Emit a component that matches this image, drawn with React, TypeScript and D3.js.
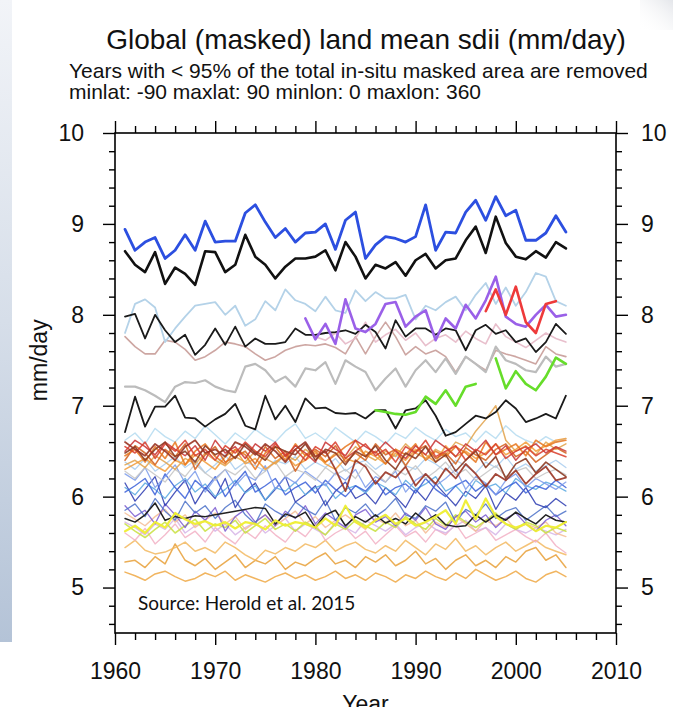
import React, { useEffect, useRef } from 'react';
import * as d3 from 'd3';

// ---------- categories / ticks ----------
const YEARS = [
  1961, 1962, 1963, 1964, 1965, 1966, 1967, 1968, 1969, 1970,
  1971, 1972, 1973, 1974, 1975, 1976, 1977, 1978, 1979, 1980,
  1981, 1982, 1983, 1984, 1985, 1986, 1987, 1988, 1989, 1990,
  1991, 1992, 1993, 1994, 1995, 1996, 1997, 1998, 1999, 2000,
  2001, 2002, 2003, 2004, 2005,
];
const X_MAJOR = [1960, 1970, 1980, 1990, 2000, 2010];
const X_MINOR = [1962, 1964, 1966, 1968, 1972, 1974, 1976, 1978, 1982, 1984, 1986, 1988, 1992, 1994, 1996, 1998, 2002, 2004, 2006, 2008];
const Y_MAJOR = [5, 6, 7, 8, 9, 10];
const Y_MINOR = [4.6, 4.8, 5.2, 5.4, 5.6, 5.8, 6.2, 6.4, 6.6, 6.8, 7.2, 7.4, 7.6, 7.8, 8.2, 8.4, 8.6, 8.8, 9.2, 9.4, 9.6, 9.8];

// ---------- series values (mm/day) ----------
const blueTop = [
  8.94, 8.71, 8.80, 8.85, 8.62, 8.71, 8.88, 8.71, 9.03, 8.80,
  8.81, 8.81, 9.12, 9.21, 9.02, 8.85, 8.95, 8.80, 8.90, 8.91,
  9.00, 8.72, 9.04, 9.13, 8.62, 8.77, 8.86, 8.84, 8.80, 8.86,
  9.21, 8.71, 8.91, 8.90, 9.13, 9.26, 9.04, 9.30, 9.09, 9.15,
  8.82, 8.82, 8.90, 9.09, 8.91,
];
const blackTop = [
  8.70, 8.55, 8.47, 8.69, 8.34, 8.52, 8.45, 8.33, 8.70, 8.69,
  8.47, 8.55, 8.88, 8.64, 8.55, 8.40, 8.53, 8.62, 8.62, 8.64,
  8.71, 8.49, 8.80, 8.64, 8.40, 8.55, 8.51, 8.58, 8.43, 8.60,
  8.67, 8.51, 8.60, 8.62, 8.82, 8.97, 8.68, 9.08, 8.79, 8.64,
  8.61, 8.70, 8.63, 8.80, 8.73,
];
const lightBlueTop = [
  7.80, 8.12, 8.17, 8.08, 7.70, 7.85, 7.98, 8.10, 8.12, 8.14,
  8.00, 8.10, 7.88, 7.95, 8.15, 8.05, 8.28, 8.16, 8.12, 8.04,
  8.20, 8.05, 8.02, 8.27, 8.15, 8.25, 8.18, 8.18, 8.22, 7.95,
  8.10, 8.05, 8.14, 8.20, 8.05, 8.22, 8.35, 8.12, 8.30, 8.10,
  8.25, 8.46, 8.42, 8.15, 8.10,
];
const blackMid = [
  7.98, 8.01, 7.74, 8.00, 7.83, 7.70, 7.78, 7.56, 7.67, 7.85,
  7.67, 7.87, 7.65, 7.74, 7.68, 7.68, 7.70, 7.85, 7.78, 7.78,
  7.80, 7.81, 7.83, 7.79, 7.89, 7.81, 7.63, 7.94, 7.76, 7.85,
  7.85, 7.78, 7.85, 7.83, 7.61, 7.83, 7.89, 7.79, 7.83, 7.70,
  7.74, 7.59, 7.70, 7.90, 7.79,
];
const purple1979 = [
  7.96, 7.73, 7.90, 7.68, 8.17, 7.85, 7.81, 7.90, 8.12, 8.14,
  7.87, 7.98, 8.05, 7.72, 7.96, 7.85, 8.11, 7.96, 8.16, 8.42,
  7.98, 7.90, 7.87, 8.00, 8.11, 7.98, 8.00,
];
const red1997 = [8.04, 8.28, 8.00, 8.31, 7.92, 7.80, 8.12, 8.15];
const rosy = [
  7.76, 7.65, 7.57, 7.57, 7.72, 7.70, 7.62, 7.50, 7.54, 7.61,
  7.70, 7.68, 7.65, 7.57, 7.50, 7.54, 7.61, 7.65, 7.67, 7.66,
  7.68, 7.64, 7.57, 7.76, 7.57, 7.76, 7.92, 7.76, 7.56, 7.65,
  7.57, 7.61, 7.54, 7.37, 7.54, 7.46, 7.39, 7.61, 7.57, 7.54,
  7.50, 7.46, 7.65, 7.57, 7.54,
];
const lightPink1980 = [
  7.76, 7.72, 7.80, 7.68, 7.74, 7.92, 7.70, 7.78, 7.84, 7.72,
  7.80, 7.66, 7.74, 7.78, 7.70, 7.82, 7.74, 7.68, 7.90, 7.76,
  7.70, 7.64, 7.72, 7.80, 7.74, 7.70,
];
const grayMid = [
  7.21, 7.21, 7.17, 7.11, 7.04, 7.21, 7.26, 7.25, 7.28, 7.21,
  7.17, 7.15, 7.43, 7.46, 7.39, 7.26, 7.32, 7.21, 7.41, 7.39,
  7.48, 7.24, 7.50, 7.43, 7.37, 7.17, 7.30, 7.41, 7.21, 7.39,
  7.50, 7.37, 7.52, 7.35, 7.54, 7.46, 7.37, 7.65, 7.50, 7.46,
  7.39, 7.37, 7.54, 7.43, 7.46,
];
const green1986 = [6.95, 6.93, 6.91, 6.90, 6.93, 7.10, 7.02, 7.17, 7.00, 7.21, 7.24];
const green1998 = [7.52, 7.19, 7.38, 7.24, 7.17, 7.32, 7.53, 7.46];
const blackLow = [
  6.71, 7.10, 6.77, 6.99, 6.99, 7.11, 6.87, 6.86, 6.77, 6.85,
  6.91, 7.02, 6.78, 6.74, 7.11, 6.85, 7.00, 6.82, 7.08, 6.97,
  6.98, 6.92, 6.91, 6.92, 6.86, 6.95, 6.95, 6.75, 6.95, 6.97,
  7.06, 6.89, 6.67, 6.71, 6.80, 6.89, 6.86, 6.93, 7.06, 6.97,
  6.82, 6.86, 6.91, 6.86, 7.11,
];
const bandCyan = [
  6.62, 6.70, 6.58, 6.75, 6.66, 6.60, 6.72, 6.64, 6.78, 6.68,
  6.58, 6.70, 6.62, 6.74, 6.66, 6.60, 6.72, 6.80, 6.64, 6.70,
  6.62, 6.76, 6.68, 6.60, 6.72, 6.66, 6.58, 6.70, 6.64, 6.76,
  6.68, 6.62, 6.74, 6.66, 6.70, 6.60, 6.72, 6.64, 6.78, 6.68,
  6.62, 6.58, 6.66, 6.60, 6.64,
];
const bandRed = [
  6.55, 6.48, 6.60, 6.42, 6.58, 6.50, 6.62, 6.45, 6.52, 6.40,
  6.56, 6.48, 6.60, 6.50, 6.44, 6.58, 6.46, 6.52, 6.40, 6.55,
  6.48, 6.60, 6.42, 6.50, 6.58, 6.45, 6.52, 6.38, 6.55, 6.48,
  6.62, 6.44, 6.50, 6.56, 6.40, 6.52, 6.46, 6.58, 6.42, 6.50,
  6.55, 6.45, 6.52, 6.48, 6.44,
];
const bandOrange = [
  6.45, 6.52, 6.38, 6.55, 6.42, 6.60, 6.35, 6.50, 6.58, 6.44,
  6.36, 6.52, 6.46, 6.30, 6.48, 6.55, 6.40, 6.58, 6.45, 6.50,
  6.38, 6.46, 6.55, 6.62, 6.44, 6.50, 6.36, 6.52, 6.46, 6.58,
  6.40, 6.50, 6.44, 6.55, 6.48, 6.38, 6.60, 6.46, 6.52, 6.58,
  6.45, 6.62, 6.55, 6.60, 6.62,
];
const bandBrown = [
  6.60, 6.52, 6.45, 6.58, 6.50, 6.40, 6.55, 6.62, 6.48, 6.52,
  6.44, 6.60, 6.55, 6.46, 6.58, 6.50, 6.38, 6.52, 6.60, 6.44,
  6.50, 6.30, 6.06, 6.40, 6.33, 6.14, 6.27, 6.21, 6.33, 6.12,
  6.25, 6.14, 6.31, 6.20, 6.36, 6.25, 6.11, 6.25, 6.18, 6.29,
  6.14, 6.25, 6.33, 6.18, 6.21,
];
const bandLightOrange = [
  6.30, 6.36, 6.42, 6.34, 6.28, 6.40, 6.35, 6.46, 6.38, 6.30,
  6.44, 6.52, 6.36, 6.42, 6.30, 6.38, 6.46, 6.34, 6.40, 6.48,
  6.36, 6.30, 6.42, 6.38, 6.50, 6.44, 6.36, 6.48, 6.40, 6.52,
  6.46, 6.38, 6.56, 6.44, 6.50, 6.42, 6.48, 6.58, 6.46, 6.52,
  6.60, 6.50, 6.56, 6.62, 6.64,
];
const bandTan = [
  6.35, 6.40, 6.32, 6.45, 6.38, 6.30, 6.42, 6.36, 6.48, 6.40,
  6.34, 6.44, 6.38, 6.50, 6.42, 6.36, 6.46, 6.40, 6.52, 6.44,
  6.38, 6.48, 6.42, 6.55, 6.46, 6.40, 6.50, 6.44, 6.58, 6.48,
  6.42, 6.52, 6.46, 6.60, 6.55, 6.72, 6.85, 7.00, 6.62, 6.50,
  6.56, 6.46, 6.60, 6.52, 6.58,
];
const bandCrimson = [
  6.50, 6.62, 6.55, 6.46, 6.60, 6.52, 6.45, 6.56, 6.40, 6.62,
  6.48, 6.55, 6.42, 6.58, 6.50, 6.60, 6.44, 6.56, 6.48, 6.38,
  6.60, 6.52, 6.45, 6.62, 6.55, 6.48, 6.60, 6.50, 6.42, 6.56,
  6.46, 6.62, 6.54, 6.44, 6.58, 6.50, 6.62, 6.46, 6.56, 6.40,
  6.52, 6.58, 6.48, 6.55, 6.50,
];
const bandDarkOrange = [
  6.40, 6.56, 6.48, 6.35, 6.52, 6.44, 6.58, 6.30, 6.46, 6.55,
  6.38, 6.44, 6.50, 6.36, 6.55, 6.42, 6.50, 6.28, 6.46, 6.52,
  6.44, 6.56, 6.38, 6.48, 6.40, 6.58, 6.46, 6.52, 6.34, 6.50,
  6.56, 6.42, 6.48, 6.36, 6.54, 6.46, 6.40, 6.52, 6.58, 6.44,
  6.50, 6.38, 6.46, 6.54, 6.48,
];
const bandMaroon = [
  6.48, 6.55, 6.40, 6.52, 6.60, 6.44, 6.50, 6.38, 6.56, 6.46,
  6.52, 6.42, 6.58, 6.48, 6.40, 6.55, 6.50, 6.46, 6.58, 6.40,
  6.52, 6.48, 6.35, 6.50, 6.44, 6.56, 6.40, 6.30, 6.48, 6.42,
  6.55, 6.38, 6.46, 6.28, 6.40, 6.50, 6.32, 6.44, 6.20, 6.36,
  6.42, 6.26, 6.38, 6.30, 6.22,
];
const bandLightGray = [
  6.28, 6.20, 6.32, 6.24, 6.16, 6.30, 6.22, 6.36, 6.26, 6.18,
  6.30, 6.24, 6.34, 6.20, 6.28, 6.38, 6.22, 6.30, 6.26, 6.18,
  6.32, 6.24, 6.30, 6.20, 6.36, 6.26, 6.16, 6.30, 6.24, 6.34,
  6.20, 6.28, 6.38, 6.24, 6.30, 6.18, 6.26, 6.34, 6.22, 6.28,
  6.32, 6.20, 6.26, 6.30, 6.24,
];
const bandPaleBlue = [
  6.38, 6.30, 6.42, 6.28, 6.36, 6.44, 6.32, 6.40, 6.26, 6.35,
  6.46, 6.30, 6.38, 6.34, 6.28, 6.40, 6.36, 6.44, 6.30, 6.38,
  6.32, 6.42, 6.28, 6.36, 6.40, 6.30, 6.38, 6.46, 6.34, 6.30,
  6.42, 6.36, 6.28, 6.40, 6.34, 6.26, 6.38, 6.32, 6.44, 6.30,
  6.36, 6.28, 6.34, 6.40, 6.32,
];
const bandCornflower = [
  6.25, 6.18, 6.32, 6.10, 6.22, 6.35, 6.15, 6.28, 6.05, 6.20,
  6.30, 6.12, 6.24, 6.18, 6.34, 6.08, 6.22, 6.15, 6.28, 6.20,
  6.12, 6.26, 6.18, 6.30, 6.10, 6.22, 6.16, 6.28, 6.05, 6.18,
  6.25, 6.12, 6.20, 6.30, 6.08, 6.22, 6.15, 6.02, 6.18, 6.25,
  6.10, 6.20, 6.14, 6.08, 6.16,
];
const bandRoyal = [
  6.05, 6.12, 6.20, 6.02, 6.25, 6.10, 5.98, 6.18, 6.08, 6.22,
  6.00, 6.15, 6.28, 6.05, 6.12, 6.20, 6.02, 6.10, 6.16, 6.04,
  6.18, 6.08, 6.00, 6.12, 6.06, 6.18, 6.02, 6.10, 6.14, 6.04,
  6.20, 6.08, 6.00, 6.12, 6.18, 6.06, 6.14, 6.02, 6.10, 6.16,
  6.04, 6.12, 6.08, 6.18, 6.10,
];
const bandSky = [
  6.10, 6.02, 6.15, 6.08, 5.98, 6.12, 6.20, 6.05, 6.14, 6.00,
  6.08, 6.18, 6.04, 6.12, 5.96, 6.10, 6.06, 6.16, 6.02, 6.10,
  6.14, 5.98, 6.08, 6.12, 6.04, 6.16, 6.10, 6.02, 6.18, 6.08,
  6.14, 6.22, 6.06, 6.12, 6.00, 6.18, 6.10, 6.14, 6.04, 6.20,
  6.12, 6.08, 6.16, 6.12, 6.06,
];
const bandNavy = [
  6.15, 5.95, 6.08, 6.22, 5.90, 6.05, 6.18, 5.92, 6.10, 5.98,
  6.20, 5.88, 6.05, 6.15, 5.96, 6.08, 6.22, 5.94, 6.02, 6.12,
  5.90, 6.06, 6.16, 5.98, 6.04, 5.92, 6.10, 6.00, 5.88, 6.08,
  5.96, 6.14, 6.02, 5.90, 6.06, 5.98, 6.12, 5.86, 6.04, 5.96,
  6.10, 5.92, 5.88, 5.98, 5.90,
];
const bandSteel = [
  5.85, 5.92, 5.78, 5.98, 5.84, 5.74, 5.95, 5.82, 5.90, 5.76,
  5.88, 5.96, 5.80, 5.70, 5.92, 5.84, 5.78, 5.94, 5.86, 5.80,
  5.96, 5.74, 5.88, 5.82, 5.92, 5.78, 5.86, 5.98, 5.80, 5.76,
  5.90, 5.84, 5.94, 5.72, 5.86, 5.80, 5.92, 5.76, 5.84, 5.88,
  5.74, 5.82, 5.90, 5.78, 5.84,
];
const bandViolet = [
  5.90, 5.78, 5.85, 5.70, 5.92, 5.80, 5.66, 5.84, 5.74, 5.88,
  5.62, 5.78, 5.86, 5.72, 5.80, 5.68, 5.84, 5.76, 5.90, 5.70,
  5.82, 5.74, 5.66, 5.80, 5.86, 5.72, 5.78, 5.68, 5.82, 5.74,
  5.88, 5.70, 5.64, 5.78, 5.84, 5.72, 5.80, 5.66, 5.76, 5.82,
  5.70, 5.62, 5.74, 5.80, 5.68,
];
const bandBlackLow = [
  5.76, 5.72, 5.80, 5.93, 5.74, 5.78, 5.76, 5.79, 5.78, 5.80,
  5.82, 5.84, 5.86, 5.88, 5.87, 5.70, 5.81, 5.77, 5.83, 5.66,
  5.80, 5.85, 5.68, 5.78, 5.72, 5.80, 5.71, 5.76, 5.70, 5.82,
  5.73, 5.80, 5.69, 5.67, 5.68, 5.80, 5.72, 5.80, 5.74, 5.83,
  5.76, 5.70, 5.80, 5.74, 5.72,
];
const bandPeach = [
  5.82, 5.75, 5.68, 5.78, 5.86, 5.72, 5.80, 5.66, 5.74, 5.82,
  5.70, 5.78, 5.64, 5.72, 5.80, 5.68, 5.76, 5.84, 5.70, 5.78,
  5.66, 5.74, 5.80, 5.72, 5.64, 5.76, 5.70, 5.82, 5.68, 5.74,
  5.60, 5.72, 5.66, 5.78, 5.70, 5.62, 5.74, 5.68, 5.76, 5.64,
  5.70, 5.66, 5.72, 5.60, 5.56,
];
const bandYellowGreen = [
  5.70, 5.62, 5.55, 5.64, 5.72, 5.60, 5.68, 5.75, 5.62, 5.70,
  5.66, 5.74, 5.60, 5.68, 5.76, 5.64, 5.70, 5.62, 5.72, 5.66,
  5.58, 5.70, 5.64, 5.74, 5.68, 5.62, 5.72, 5.66, 5.78, 5.70,
  5.64, 5.76, 5.68, 5.80, 5.72, 5.66, 5.74, 5.82, 5.70, 5.64,
  5.72, 5.68, 5.60, 5.66, 5.62,
];
const bandYellow = [
  5.62, 5.68, 5.60, 5.72, 5.66, 5.82, 5.75, 5.70, 5.73, 5.68,
  5.72, 5.65, 5.72, 5.70, 5.64, 5.74, 5.68, 5.72, 5.70, 5.66,
  5.76, 5.68, 5.90, 5.72, 5.66, 5.74, 5.80, 5.70, 5.76, 5.68,
  5.72, 5.78, 5.85, 5.70, 5.96, 5.75, 5.98, 5.78, 5.70, 5.66,
  5.70, 5.62, 5.68, 5.66, 5.72,
];
const bandLilac = [
  5.72, 5.66, 5.58, 5.70, 5.64, 5.76, 5.60, 5.68, 5.74, 5.62,
  5.70, 5.58, 5.66, 5.72, 5.60, 5.68, 5.76, 5.62, 5.70, 5.64,
  5.58, 5.72, 5.66, 5.60, 5.74, 5.68, 5.62, 5.70, 5.58, 5.66,
  5.72, 5.64, 5.60, 5.68, 5.74, 5.62, 5.66, 5.58, 5.70, 5.64,
  5.60, 5.66, 5.62, 5.58, 5.64,
];
const bandPink = [
  5.60, 5.52, 5.65, 5.48, 5.58, 5.70, 5.55, 5.62, 5.50, 5.66,
  5.56, 5.48, 5.62, 5.54, 5.68, 5.58, 5.50, 5.64, 5.56, 5.70,
  5.52, 5.60, 5.66, 5.54, 5.62, 5.48, 5.58, 5.68, 5.56, 5.62,
  5.50, 5.64, 5.58, 5.70, 5.54, 5.60, 5.66, 5.52, 5.58, 5.64,
  5.56, 5.50, 5.60, 5.46, 5.38,
];
const lowOrange1 = [
  5.44, 5.52, 5.41, 5.37, 5.39, 5.44, 5.50, 5.40, 5.44, 5.38,
  5.50, 5.44, 5.36, 5.30, 5.41, 5.37, 5.44, 5.40, 5.48, 5.44,
  5.52, 5.40, 5.46, 5.50, 5.42, 5.38, 5.46, 5.40, 5.52, 5.44,
  5.36, 5.48, 5.42, 5.54, 5.40, 5.46, 5.36, 5.44, 5.50, 5.40,
  5.46, 5.52, 5.44, 5.40, 5.36,
];
const lowOrange2 = [
  5.28, 5.30, 5.22, 5.34, 5.26, 5.48, 5.30, 5.24, 5.32, 5.20,
  5.28, 5.36, 5.22, 5.30, 5.26, 5.34, 5.20, 5.28, 5.24, 5.32,
  5.38, 5.26, 5.30, 5.22, 5.34, 5.28, 5.36, 5.24, 5.30, 5.40,
  5.26, 5.32, 5.20, 5.30, 5.36, 5.24, 5.30, 5.22, 5.34, 5.28,
  5.40, 5.44, 5.30, 5.36, 5.22,
];
const lowOrange3 = [
  5.17, 5.13, 5.08, 5.15, 5.18, 5.12, 5.07, 5.10, 5.16, 5.12,
  5.18, 5.08, 5.14, 5.10, 5.06, 5.12, 5.16, 5.10, 5.14, 5.08,
  5.12, 5.18, 5.10, 5.14, 5.08, 5.16, 5.12, 5.06, 5.14, 5.10,
  5.18, 5.12, 5.08, 5.16, 5.10, 5.20, 5.14, 5.08, 5.12, 5.18,
  5.10, 5.06, 5.14, 5.18, 5.12,
];

// ---------- drawing table (data refs + style) ----------
type Series = { values: number[]; first: number; color: string; w: number; op: number };
const BG_OP = 0.85;
const SERIES: Series[] = [
  { values: lowOrange3, first: YEARS[0], color: '#eea844', w: 1.5, op: BG_OP },
  { values: lowOrange2, first: YEARS[0], color: '#e8a038', w: 1.5, op: BG_OP },
  { values: lowOrange1, first: YEARS[0], color: '#f2b860', w: 1.5, op: BG_OP },
  { values: bandPink, first: YEARS[0], color: '#f2b0c4', w: 1.4, op: BG_OP },
  { values: bandLilac, first: YEARS[0], color: '#d6b4e6', w: 1.4, op: BG_OP },
  { values: bandPeach, first: YEARS[0], color: '#f4bc94', w: 1.4, op: BG_OP },
  { values: bandYellowGreen, first: YEARS[0], color: '#c8e040', w: 1.6, op: BG_OP },
  { values: bandViolet, first: YEARS[0], color: '#7a5ad0', w: 1.3, op: BG_OP },
  { values: bandSteel, first: YEARS[0], color: '#4a70c8', w: 1.3, op: BG_OP },
  { values: bandNavy, first: YEARS[0], color: '#2a3ab0', w: 1.3, op: BG_OP },
  { values: bandSky, first: YEARS[0], color: '#58a8e0', w: 1.3, op: BG_OP },
  { values: bandRoyal, first: YEARS[0], color: '#3a5fd8', w: 1.4, op: BG_OP },
  { values: bandCornflower, first: YEARS[0], color: '#7a9aea', w: 1.3, op: BG_OP },
  { values: bandPaleBlue, first: YEARS[0], color: '#a8cdee', w: 1.3, op: BG_OP },
  { values: bandLightGray, first: YEARS[0], color: '#c4c4c4', w: 1.3, op: BG_OP },
  { values: bandCyan, first: YEARS[0], color: '#b4daf0', w: 1.4, op: BG_OP },
  { values: bandBlackLow, first: YEARS[0], color: '#222222', w: 1.5, op: 1 },
  { values: bandYellow, first: YEARS[0], color: '#eeee30', w: 2.2, op: 0.95 },
  { values: bandTan, first: YEARS[0], color: '#e2a24a', w: 1.5, op: BG_OP },
  { values: bandLightOrange, first: YEARS[0], color: '#f29c3a', w: 1.6, op: BG_OP },
  { values: bandDarkOrange, first: YEARS[0], color: '#d2601c', w: 1.6, op: BG_OP },
  { values: bandOrange, first: YEARS[0], color: '#e8761c', w: 1.7, op: BG_OP },
  { values: bandCrimson, first: YEARS[0], color: '#c83232', w: 1.5, op: BG_OP },
  { values: bandRed, first: YEARS[0], color: '#d83c2a', w: 1.6, op: BG_OP },
  { values: bandMaroon, first: YEARS[0], color: '#8c3a22', w: 1.6, op: 0.9 },
  { values: bandBrown, first: YEARS[0], color: '#9a3424', w: 1.8, op: 0.9 },
  { values: blackLow, first: YEARS[0], color: '#1a1a1a', w: 1.8, op: 1 },
  { values: rosy, first: YEARS[0], color: '#c89c98', w: 1.6, op: 0.9 },
  { values: lightPink1980, first: 1980, color: '#e6b8c6', w: 1.6, op: 0.9 },
  { values: grayMid, first: YEARS[0], color: '#bcbcbc', w: 2.2, op: 1 },
  { values: green1986, first: 1986, color: '#66dd2a', w: 2.6, op: 1 },
  { values: green1998, first: 1998, color: '#66dd2a', w: 2.6, op: 1 },
  { values: lightBlueTop, first: YEARS[0], color: '#b4d2e8', w: 1.8, op: 1 },
  { values: blackMid, first: YEARS[0], color: '#1a1a1a', w: 1.8, op: 1 },
  { values: purple1979, first: 1979, color: '#9a60e8', w: 2.6, op: 1 },
  { values: red1997, first: 1997, color: '#ee3a3a', w: 2.6, op: 1 },
  { values: blackTop, first: YEARS[0], color: '#111111', w: 2.6, op: 1 },
  { values: blueTop, first: YEARS[0], color: '#2c4fe0', w: 2.8, op: 1 },
];

const FONT = "'Liberation Sans', Arial, Helvetica, sans-serif";
const TICK_FONT = 23;

export default function App() {
  const axRef = useRef<SVGGElement>(null);

  const x = d3.scaleLinear().domain([1960, 2010]).range([115, 616]);
  const y = d3.scaleLinear().domain([4.5, 10]).range([633, 133]);
  const [xl, xr] = x.range();
  const [yb, yt] = y.range();

  const line = d3
    .line<{ yr: number; v: number }>()
    .x((d) => x(d.yr))
    .y((d) => y(d.v));

  useEffect(() => {
    const g = d3.select(axRef.current);
    g.selectAll('*').remove();
    const style = (sel: any) => {
      sel.select('.domain').remove();
      sel.selectAll('line').attr('stroke', '#000').attr('stroke-width', 1.4);
      sel.selectAll('text').attr('fill', '#111').attr('font-family', FONT).attr('font-size', TICK_FONT);
      sel.attr('font-family', FONT).attr('font-size', TICK_FONT);
    };
    // bottom
    g.append('g').attr('transform', `translate(0,${yb})`)
      .call(d3.axisBottom(x).tickValues(X_MAJOR).tickSize(12).tickPadding(18).tickFormat(d3.format('d')) as any)
      .call(style);
    g.append('g').attr('transform', `translate(0,${yb})`)
      .call(d3.axisBottom(x).tickValues(X_MINOR).tickSize(7).tickFormat(() => '') as any)
      .call(style);
    // top
    g.append('g').attr('transform', `translate(0,${yt})`)
      .call(d3.axisTop(x).tickValues(X_MAJOR).tickSize(12).tickFormat(() => '') as any)
      .call(style);
    g.append('g').attr('transform', `translate(0,${yt})`)
      .call(d3.axisTop(x).tickValues(X_MINOR).tickSize(7).tickFormat(() => '') as any)
      .call(style);
    // left
    g.append('g').attr('transform', `translate(${xl},0)`)
      .call(d3.axisLeft(y).tickValues(Y_MAJOR).tickSize(12).tickPadding(19).tickFormat(d3.format('d')) as any)
      .call(style);
    g.append('g').attr('transform', `translate(${xl},0)`)
      .call(d3.axisLeft(y).tickValues(Y_MINOR).tickSize(6).tickFormat(() => '') as any)
      .call(style);
    // right
    g.append('g').attr('transform', `translate(${xr},0)`)
      .call(d3.axisRight(y).tickValues(Y_MAJOR).tickSize(12).tickPadding(13).tickFormat(d3.format('d')) as any)
      .call(style);
    g.append('g').attr('transform', `translate(${xr},0)`)
      .call(d3.axisRight(y).tickValues(Y_MINOR).tickSize(6).tickFormat(() => '') as any)
      .call(style);
  }, []);

  return (
    <svg
      width={673}
      height={707}
      viewBox="0 0 673 707"
      style={{ position: 'absolute', left: 0, top: 0, background: '#fff' }}
    >
      <defs>
        <linearGradient id="strip" x1="0" y1="0" x2="0" y2="1">
          <stop offset="0" stopColor="#f2f4f8" />
          <stop offset="0.5" stopColor="#d6dee9" />
          <stop offset="1" stopColor="#b4c3d7" />
        </linearGradient>
        <linearGradient id="corner" x1="1" y1="0" x2="0" y2="1">
          <stop offset="0" stopColor="#e4e6ea" />
          <stop offset="1" stopColor="#ffffff" stopOpacity="0" />
        </linearGradient>
        <clipPath id="plotClip">
          <rect x={xl} y={yt} width={xr - xl} height={yb - yt} />
        </clipPath>
      </defs>
      <rect x={0} y={0} width={673} height={707} fill="#fff" />
      <rect x={0} y={0} width={12} height={642} fill="url(#strip)" />
      <rect x={640} y={0} width={33} height={30} fill="url(#corner)" />

      <text x={366} y={49} textAnchor="middle" fontFamily={FONT} fontSize={28} fill="#111">
        Global (masked) land mean sdii (mm/day)
      </text>
      <text x={69} y={78} fontFamily={FONT} fontSize={21} fill="#111">
        Years with &lt; 95% of the total in-situ masked area are removed
      </text>
      <text x={69} y={99} fontFamily={FONT} fontSize={21} fill="#111">
        minlat: -90 maxlat: 90 minlon: 0 maxlon: 360
      </text>

      <g clipPath="url(#plotClip)" fill="none" strokeLinejoin="round" strokeLinecap="round">
        {SERIES.map((s, i) => (
          <path
            key={i}
            d={line(s.values.map((v, j) => ({ yr: s.first + j, v }))) || ''}
            stroke={s.color}
            strokeWidth={s.w}
            strokeOpacity={s.op}
          />
        ))}
      </g>

      <rect x={xl} y={yt} width={xr - xl} height={yb - yt} fill="none" stroke="#000" strokeWidth={1.6} />
      <g ref={axRef} />

      <text x={138} y={610} fontFamily="Lato, 'Open Sans', sans-serif" fontSize={19} fill="#111">
        Source: Herold et al. 2015
      </text>

      <text
        transform={`translate(47, ${(y(7) + y(8)) / 2}) rotate(-90)`}
        textAnchor="middle"
        fontFamily={FONT}
        fontSize={23}
        fill="#111"
      >
        mm/day
      </text>
      <text x={(xl + xr) / 2} y={712} textAnchor="middle" fontFamily={FONT} fontSize={23} fill="#111">
        Year
      </text>
    </svg>
  );
}
